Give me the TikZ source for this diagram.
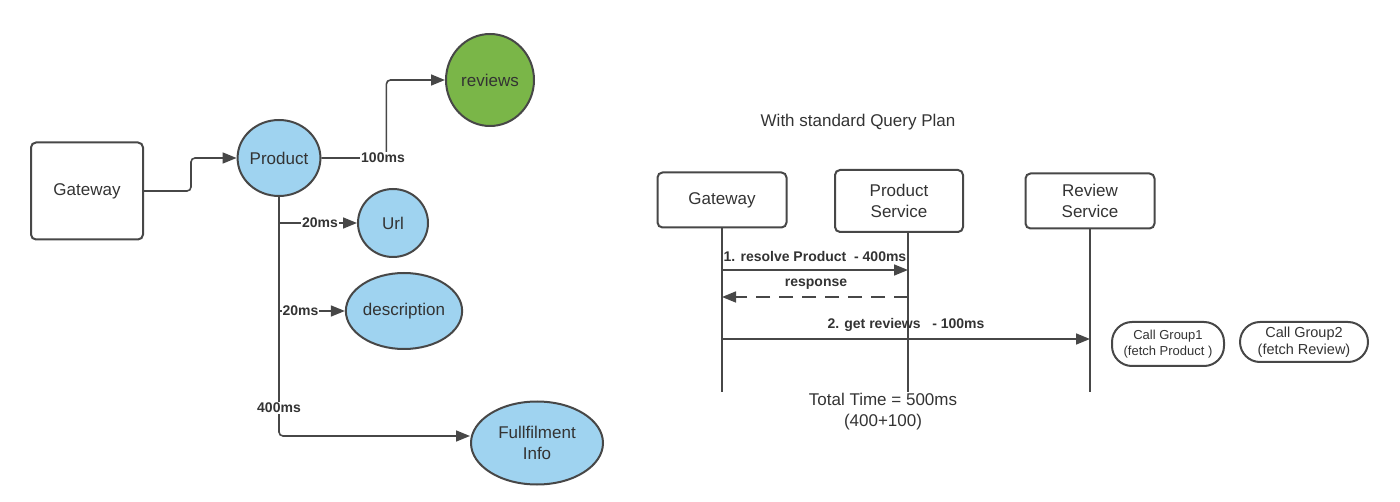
\documentclass[tikz,border=0pt]{standalone}
\usepackage{fontspec}
\setmainfont{Liberation Sans}
\usetikzlibrary{shapes.geometric,arrows.meta}
\definecolor{edge}{HTML}{474747}
\definecolor{ink}{HTML}{333333}
\definecolor{skyfill}{HTML}{9FD3F0}
\definecolor{leaf}{HTML}{7AB648}
\newcommand{\bigtxt}{\fontsize{17}{21}\selectfont}
\newcommand{\lbltxt}{\fontsize{14}{17}\selectfont\bfseries}
\tikzset{
  svc/.style={draw=edge, line width=2pt, rounded corners=5pt, font=\bigtxt, text=ink, align=center},
  blob/.style={ellipse, draw=edge, line width=2pt, fill=skyfill, inner sep=0pt, font=\bigtxt, text=ink, align=center},
  conn/.style={draw=edge, line width=1.6pt, -{Triangle[length=14pt,width=11pt]}, rounded corners=4pt},
  lbl/.style={font=\lbltxt, inner sep=1pt, text=ink},
  life/.style={draw=edge, line width=1.6pt},
  group/.style={draw=edge, line width=2pt, rounded corners=20pt, align=center, inner sep=0pt, text=ink}
}
\begin{document}
\begin{tikzpicture}[x=1pt, y=-1pt]
  \useasboundingbox (0,0) rectangle (1400,502);
  % linke Seite: Aufrufbaum
  \node[svc, minimum width=112pt, minimum height=97pt] (gw) at (87,191) {Gateway};
  \node[blob, minimum width=82pt, minimum height=76pt] (prod) at (279,158) {Product};
  \node[blob, fill=leaf, minimum width=88pt, minimum height=92pt] (rev) at (490,80) {reviews};
  \node[blob, minimum width=70pt, minimum height=68pt] (url) at (393,223) {Url};
  \node[blob, minimum width=110pt, minimum height=76pt] (desc) at (404,311) {description};
  \node[blob, minimum width=132pt, minimum height=83pt] (ful) at (537,443) {Fullfilment\\Info};
  % Abzweigpunkte am Stamm
  \coordinate (t1) at (280,223);
  \coordinate (t2) at (280,311);
  % Verbindungen
  \draw[conn] (gw.east) -- ++(47,0) |- (prod.west);
  \draw[conn] (prod.east) -- ++(65,0) |- (rev.west);
  \node[lbl, fill=white] (l100) at (383,158) {100ms};
  \draw[conn] (prod.south) |- ([yshift=7pt]ful.west);
  \draw[conn] (t1) -- (url.west);
  \node[lbl, fill=white] (l20a) at (320,223) {20ms};
  \draw[conn] (t2) -- (desc.west);
  \node[lbl, fill=white, inner sep=0.5pt] (l20b) at (300.5,311) {20ms};
  \node[lbl, fill=white] (l400) at (279,408) {400ms};
  % rechte Seite: Ablauf
  \node[font=\bigtxt, text=ink] (title) at (858,122) {With standard Query Plan};
  \node[svc, minimum width=129pt, minimum height=55pt] (gw2) at (722,200) {Gateway};
  \node[svc, minimum width=128pt, minimum height=62pt] (ps) at (899,201) {Product\\Service};
  \node[svc, minimum width=129pt, minimum height=55pt] (rs) at (1090,201) {Review\\Service};
  % Lebenslinien
  \coordinate (gwEnd) at (722,392);
  \coordinate (psTop) at (908,232);
  \coordinate (psEnd) at (908,392);
  \coordinate (rsEnd) at (1090,392);
  \draw[life] (gw2.south) -- (gwEnd);
  \draw[life] (psTop) -- (psEnd);
  \draw[life] (rs.south) -- (rsEnd);
  % Nachrichten
  \coordinate (m1s) at (722,270); \coordinate (m1e) at (908,270);
  \draw[conn] (m1s) -- (m1e);
  \node[lbl] (m1l) at (815,256) {1. resolve Product\ \ - 400ms};
  \coordinate (m2s) at (908,297); \coordinate (m2e) at (722,297);
  \draw[conn, dash pattern=on 14pt off 9pt] (m2s) -- (m2e);
  \node[lbl] (m2l) at (816,284) {response};
  \coordinate (m3s) at (722,339); \coordinate (m3e) at (1090,339);
  \draw[conn] (m3s) -- (m3e);
  \node[lbl] (m3l) at (906,325) {2. get reviews\ \ \ - 100ms};
  \node[font=\bigtxt, text=ink, align=center] (total) at (883,412) {Total Time = 500ms\\(400+100)};
  % Aufrufgruppen
  \node[group, minimum width=112pt, minimum height=44pt, font=\fontsize{13}{16}\selectfont] (cg1) at (1168,344) {Call Group1\\(fetch Product )};
  \node[group, minimum width=128pt, minimum height=40pt, font=\fontsize{14.5}{17}\selectfont] (cg2) at (1304,342) {Call Group2\\(fetch Review)};
\end{tikzpicture}
\end{document}
